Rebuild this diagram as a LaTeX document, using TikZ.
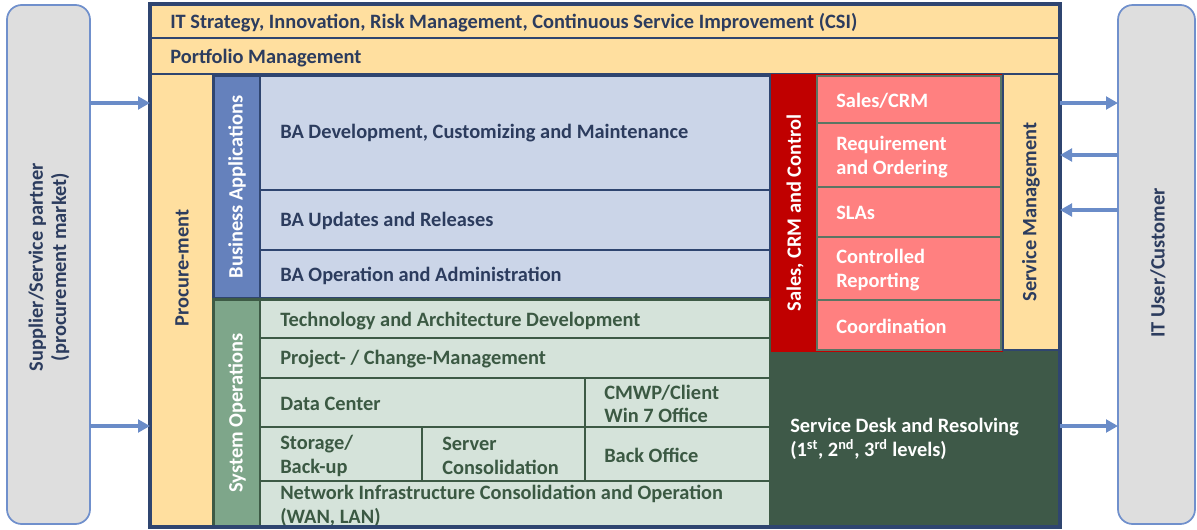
\documentclass[tikz,border=0pt]{standalone}
\usepackage{fontspec}
\setmainfont{Carlito}
\usetikzlibrary{fit,arrows.meta}
\definecolor{peach}{HTML}{FFDF9F}
\definecolor{navy}{HTML}{2F4570}
\definecolor{navytxt}{HTML}{2C3C5E}
\definecolor{bacol}{HTML}{6581BC}
\definecolor{bacell}{HTML}{CBD5E8}
\definecolor{socol}{HTML}{7EA68A}
\definecolor{socell}{HTML}{D5E3DA}
\definecolor{sogreen}{HTML}{3D5A45}
\definecolor{sotxt}{HTML}{3B5943}
\definecolor{redcol}{HTML}{C00000}
\definecolor{redcell}{HTML}{FF8080}
\definecolor{redline}{HTML}{5B7563}
\definecolor{deskgreen}{HTML}{3E5948}
\definecolor{graybox}{HTML}{DEDEDE}
\definecolor{grayline}{HTML}{7090CC}
\definecolor{arrowblue}{HTML}{6A8CC8}
\tikzset{
  box/.style={inner sep=0pt, outer sep=0pt},
  bigfont/.style={font=\fontsize{15.3}{17.5}\selectfont\bfseries},
  lbl/.style={bigfont, inner sep=0pt, anchor=west, align=left, yshift=-1.5pt},
  navylbl/.style={lbl, text=navytxt},
  greenlbl/.style={lbl, text=sotxt},
  whitelbl/.style={lbl, text=white},
  vlbl/.style={bigfont, inner sep=0pt, rotate=90, align=center},
  arr/.style={draw=arrowblue, line width=2.4pt, -{Triangle[length=9pt,width=9.5pt]}},
  ext/.style={box, draw=grayline, fill=graybox, line width=1.3pt, rounded corners=11pt},
}
\newcommand\cellbox[6]{\node[box, fit={(#2,#3) (#4,#5)}, #6] (#1) {};}
\begin{document}
\begin{tikzpicture}[x=0.75pt,y=-0.75pt]
\useasboundingbox (0,0) rectangle (1197,529);

% external boxes
\cellbox{supplier}{7}{5}{90}{524}{ext}
\cellbox{customer}{1118}{5}{1195}{524}{ext}
\node[vlbl, text=navytxt] (suppliertxt) at (49,267) {Supplier/Service partner\\(procurement market)};
\node[vlbl, text=navytxt] (customertxt) at (1158,263) {IT User/Customer};

% top rows
\cellbox{strategy}{150}{4}{1060}{38}{fill=peach, draw=navy, line width=1.6pt}
\cellbox{portfolio}{150}{38}{1060}{74}{fill=peach, draw=navy, line width=1.6pt}
\node[navylbl] (strategytxt) at (170,21) {IT Strategy, Innovation, Risk Management, Continuous Service Improvement (CSI)};
\node[navylbl] (portfoliotxt) at (170,56) {Portfolio Management};

% procurement
\cellbox{procure}{150}{74}{213}{527}{fill=peach, draw=navy, line width=1.6pt}
\node[vlbl, text=navytxt] (procuretxt) at (182,268) {Procure-ment};

% business applications
\cellbox{bacolumn}{214}{76}{260}{298}{fill=bacol, draw=navy, line width=1pt}
\node[vlbl, text=white] (bacoltxt) at (237,187) {Business Applications};
\cellbox{ba1}{260}{76}{770}{190}{fill=bacell, draw=navy, line width=1pt}
\cellbox{ba2}{260}{190}{770}{250}{fill=bacell, draw=navy, line width=1pt}
\cellbox{ba3}{260}{250}{770}{298}{fill=bacell, draw=navy, line width=1pt}
\node[navylbl] (ba1txt) at (280,131) {BA Development, Customizing and Maintenance};
\node[navylbl] (ba2txt) at (280,219) {BA Updates and Releases};
\node[navylbl] (ba3txt) at (280,274) {BA Operation and Administration};

% system operations
\cellbox{soblock}{213}{299}{770}{527}{fill=socell, draw=sogreen, line width=1.8pt}
\cellbox{socolumn}{214}{300}{260}{527}{fill=socol, draw=sogreen, line width=1pt}
\node[vlbl, text=white] (socoltxt) at (237,413) {System Operations};
\tikzset{socellst/.style={fill=socell, draw=sogreen, line width=1pt}}
\cellbox{tech}{260}{300}{770}{338}{socellst}
\cellbox{proj}{260}{338}{770}{378}{socellst}
\cellbox{dc}{260}{378}{585}{427}{socellst}
\cellbox{cmwp}{585}{378}{770}{427}{socellst}
\cellbox{stor}{260}{427}{422}{481}{socellst}
\cellbox{serv}{422}{427}{585}{481}{socellst}
\cellbox{back}{585}{427}{770}{481}{socellst}
\cellbox{net}{260}{481}{770}{527}{socellst}
\node[greenlbl] (techtxt) at (280,319) {Technology and Architecture Development};
\node[greenlbl] (projtxt) at (280,357) {Project- / Change-Management};
\node[greenlbl] (dctxt) at (280,402) {Data Center};
\node[greenlbl] (cmwptxt) at (604,402) {CMWP/Client\\Win 7 Office};
\node[greenlbl] (stortxt) at (280,454) {Storage/\\Back-up};
\node[greenlbl] (servtxt) at (442,454) {Server\\Consolidation};
\node[greenlbl] (backtxt) at (604,453) {Back Office};
\node[greenlbl] (nettxt) at (280,504) {Network Infrastructure Consolidation and Operation\\(WAN, LAN)};

% service desk
\cellbox{desk}{770}{350}{1060}{527}{fill=deskgreen}
\node[whitelbl] (desktxt) at (790,437) {Service Desk and Resolving\\(1\textsuperscript{st}, 2\textsuperscript{nd}, 3\textsuperscript{rd} levels)};

% sales / CRM
\cellbox{sales}{771}{74}{1003}{352}{fill=redcol}
\node[vlbl, text=white] (salestxt) at (795,213) {Sales, CRM and Control};
\tikzset{redcellst/.style={fill=redcell, draw=redline, line width=0.8pt}}
\cellbox{r1}{817}{76}{1001}{123}{redcellst}
\cellbox{r2}{817}{123}{1001}{187}{redcellst}
\cellbox{r3}{817}{187}{1001}{237}{redcellst}
\cellbox{r4}{817}{237}{1001}{300}{redcellst}
\cellbox{r5}{817}{300}{1001}{350}{redcellst}
\node[whitelbl] (r1txt) at (836,99) {Sales/CRM};
\node[whitelbl] (r2txt) at (836,155) {Requirement\\and Ordering};
\node[whitelbl] (r3txt) at (836,211) {SLAs};
\node[whitelbl] (r4txt) at (836,268) {Controlled\\Reporting};
\node[whitelbl] (r5txt) at (836,324) {Coordination};

% service management
\cellbox{svcmgmt}{1003}{74}{1060}{350}{fill=peach, draw=navy, line width=2pt}
\node[vlbl, text=navytxt] (svcmgmttxt) at (1031,212) {Service Management};

% outer frame
\cellbox{frame}{150}{4}{1060}{527}{draw=navy, line width=2.6pt}

% arrows
\coordinate (la) at (150,103);
\coordinate (lb) at (150,426);
\coordinate (ra) at (1060,103);
\coordinate (rb) at (1060,155);
\coordinate (rc) at (1060,210);
\coordinate (rd) at (1060,426);
\draw[arr] (supplier.east |- la) -- (frame.west |- la);
\draw[arr] (supplier.east |- lb) -- (frame.west |- lb);
\draw[arr] (frame.east |- ra) -- (customer.west |- ra);
\draw[arr] (customer.west |- rb) -- (frame.east |- rb);
\draw[arr] (customer.west |- rc) -- (frame.east |- rc);
\draw[arr] (frame.east |- rd) -- (customer.west |- rd);
\end{tikzpicture}
\end{document}
